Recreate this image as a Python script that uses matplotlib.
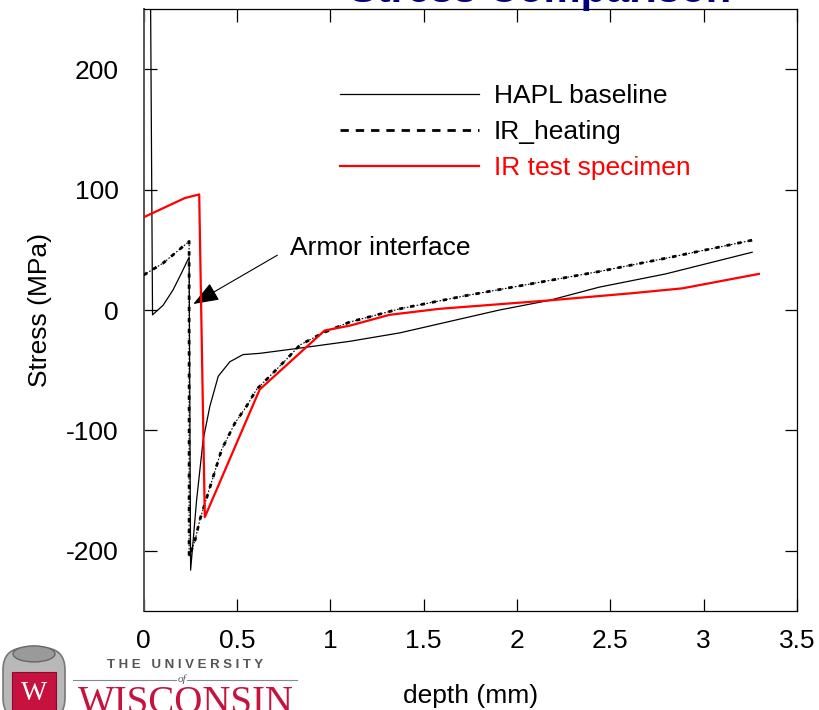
import matplotlib
matplotlib.use("Agg")
import matplotlib.pyplot as plt
import matplotlib.patches as mpatches
from matplotlib.lines import Line2D

plt.rcParams["font.family"] = ["Liberation Sans", "DejaVu Sans"]
plt.rcParams["lines.scale_dashes"] = False
plt.rcParams["axes.unicode_minus"] = False

# ── Data ──────────────────────────────────────────────────────────────────────
hapl_x = [0.037, 0.048, 0.105, 0.159, 0.204, 0.244, 0.252, 0.284, 0.319, 0.355,
          0.400, 0.462, 0.533, 0.622, 0.819, 1.104, 1.372, 1.906, 2.173, 2.441,
          2.797, 3.260]
hapl_y = [270, -4, 4, 17, 31, 44, -216, -158, -108, -80,
          -55, -43, -37, -36, -32, -26, -19, 0, 8, 19,
          30, 48]

irh_x = [0.0, 0.105, 0.244, 0.244, 0.276, 0.302, 0.346, 0.418, 0.489, 0.551,
         0.605, 0.676, 0.765, 0.838, 0.961, 1.104, 1.372, 1.728, 2.084, 2.441,
         2.797, 3.260]
irh_y = [29, 39, 57, -205, -191, -174, -152, -116, -94, -80,
         -66, -55, -41, -29, -19, -10, 1, 12, 22, 32,
         43, 58]

irt_x = [0.0, 0.221, 0.298, 0.328, 0.622, 0.970, 1.104, 1.317, 1.585, 2.173,
         2.619, 2.886, 3.296]
irt_y = [77, 93, 96, -172, -66, -17, -13, -4, 1, 8,
         14, 18, 30]

labels = ["HAPL baseline", "IR_heating", "IR test specimen"]
x_ticks = [0, 0.5, 1, 1.5, 2, 2.5, 3, 3.5]
x_tick_labels = ["0", "0.5", "1", "1.5", "2", "2.5", "3", "3.5"]
y_ticks = [-200, -100, 0, 100, 200]

# ── Figure ────────────────────────────────────────────────────────────────────
fig = plt.figure(figsize=(8.19, 7.10), dpi=100)
fig.patch.set_facecolor("white")
ax = fig.add_axes([0.1753, 0.1394, 0.7978, 0.8479])

ax.plot(hapl_x, hapl_y, color="black", lw=0.9, zorder=3)
# IR_heating: thin dotted line under short thick dashes (scanned dash-dot look)
ax.plot(irh_x, irh_y, color="black", lw=0.8, linestyle=(0, (1.2, 1.2)), zorder=3)
ax.plot(irh_x, irh_y, color="black", lw=2.0, linestyle=(0, (3.0, 5.0)), zorder=3)
ax.plot(irt_x, irt_y, color="#ff0000", lw=1.6, zorder=4)

ax.set_xlim(0, 3.5)
ax.set_ylim(-250, 250)
ax.set_xticks(x_ticks)
ax.set_xticklabels(x_tick_labels)
ax.set_yticks(y_ticks)
ax.tick_params(axis="both", direction="in", length=9, width=0.9,
               top=True, right=True, labelsize=19, pad=13, colors="black")
ax.tick_params(axis="y", pad=18)
for side in ["top", "bottom", "right"]:
    ax.spines[side].set_linewidth(0.9)
ax.spines["left"].set_linewidth(1.4)
ax.spines["left"].set_color("#555555")

ax.set_xlabel("depth (mm)", fontsize=19, labelpad=22)
ax.set_ylabel("Stress (MPa)", fontsize=19, labelpad=10)

# legend
handles = [
    Line2D([], [], color="black", lw=0.9),
    Line2D([], [], color="black", lw=2.0, linestyle=(0, (6, 5))),
    Line2D([], [], color="#ff0000", lw=1.6),
]
leg = ax.legend(handles, labels, loc="upper left", bbox_to_anchor=(0.30, 0.875),
                frameon=False, fontsize=19, handlelength=5.3, handletextpad=0.55,
                labelspacing=0.45, borderpad=0, borderaxespad=0)
leg.get_texts()[2].set_color("#ff0000")

# annotation
ax.annotate("Armor interface", xy=(0.266, 5), xytext=(0.783, 51.5),
            fontsize=19, ha="left", va="center",
            arrowprops=dict(arrowstyle="-|>,head_length=0.8,head_width=0.3",
                            color="black", lw=0.8, mutation_scale=20,
                            relpos=(0, 0.5), shrinkA=8, shrinkB=0))

# title, mostly cut off by the top edge
fig.text(0.66, 0.9975, "Stress Comparison", fontsize=30, fontweight="bold",
         color="#000080", ha="center", va="baseline")

# ── University logo (bottom-left) ─────────────────────────────────────────────
lax = fig.add_axes([0, 0, 0.37, 0.127])
lax.set_xlim(0, 303)
lax.set_ylim(710, 620)
lax.axis("off")
lax.add_patch(mpatches.FancyBboxPatch((3, 648), 62, 72, boxstyle="round,pad=0,rounding_size=22",
                                      facecolor="#b8b8b8", edgecolor="#777777", lw=1.2))
lax.add_patch(mpatches.Ellipse((34, 654), 42, 16, facecolor="#9a9a9a", edgecolor="#666666", lw=1))
lax.add_patch(mpatches.Rectangle((12, 672), 44, 40, facecolor="#c5123e", edgecolor="#8a0a2a", lw=0.8))
lax.text(34, 694, "W", fontsize=20, color="white", family="Liberation Serif",
         ha="center", va="center")
lax.text(185, 665, "T H E   U N I V E R S I T Y", fontsize=9.5, fontweight="bold",
         color="#555555", ha="center", va="center")
lax.plot([73, 297], [680, 680], color="#888888", lw=0.8)
lax.text(182, 679, "of", fontsize=8, style="italic", color="#555555", family="Liberation Serif",
         ha="center", va="center", bbox=dict(facecolor="white", edgecolor="none", pad=0.5))
lax.text(186, 685, "WISCONSIN", fontsize=28, color="#c5123e", family="Liberation Serif",
         ha="center", va="top")

fig.savefig("out.png", dpi=100, facecolor=fig.get_facecolor())
